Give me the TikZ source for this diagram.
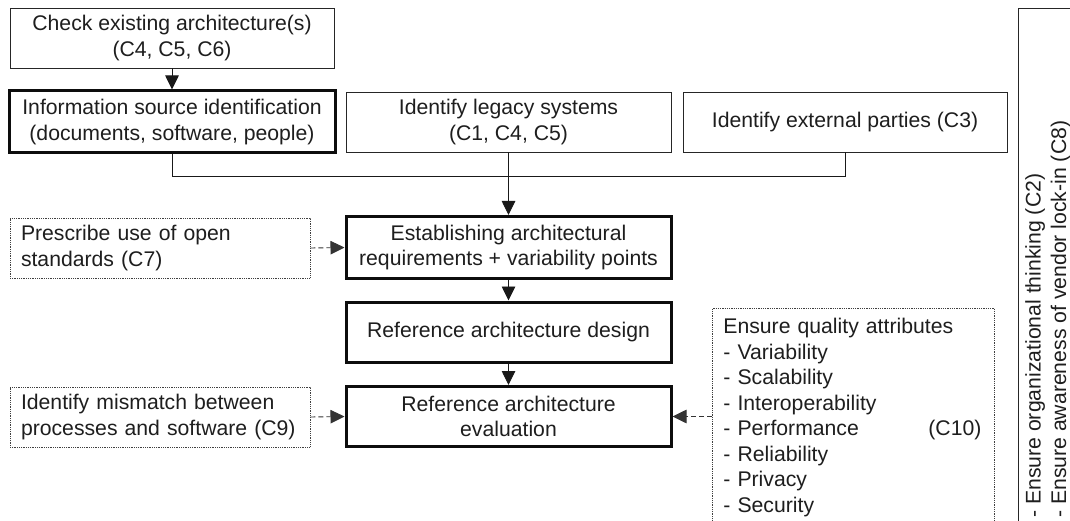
\documentclass[tikz,border=0pt]{standalone}
\usepackage{fontspec}
\setmainfont{Liberation Sans}
\usetikzlibrary{arrows.meta}
\definecolor{ink}{HTML}{1E1E1E}
\tikzset{
  base/.style={font=\fontsize{21.2}{25.5}\selectfont, text=ink, align=center, inner sep=0pt},
  thinbox/.style={base, draw=black!85, line width=0.9pt},
  thickbox/.style={base, draw=black!95, line width=3pt},
  dotbox/.style={base, draw=black!75, line width=0.8pt, dash pattern=on 0.9pt off 0.9pt, align=left},
  flow/.style={draw=black!90, line width=0.9pt},
  arr/.style={flow, -{Triangle[length=14pt,width=13.5pt]}},
  darr/.style={draw=black!80, line width=0.9pt, dash pattern=on 5pt off 3pt, -{Triangle[length=14pt,width=13.5pt]}},
}
\begin{document}
\begin{tikzpicture}[x=1pt,y=-1pt]
\useasboundingbox (0,0) rectangle (1070,521);
\clip (0,0) rectangle (1070,521);
\fill[white] (0,0) rectangle (1070,521);

\node[thinbox, minimum width=324pt, minimum height=60pt] (b1) at (172,38) {Check existing architecture(s)\\(C4, C5, C6)};
\node[thickbox, minimum width=326pt, minimum height=62pt] (b2) at (172,122) {Information source identification\\(documents, software, people)};
\node[thinbox, minimum width=325pt, minimum height=60pt] (b3) at (508.5,122) {Identify legacy systems\\(C1, C4, C5)};
\node[thinbox, minimum width=324pt, minimum height=60pt] (b4) at (845,122) {Identify external parties (C3)};

\node[thickbox, minimum width=325pt, minimum height=62pt] (b5) at (508.5,247.5) {Establishing architectural\\requirements + variability points};
\node[thickbox, minimum width=325pt, minimum height=60pt] (b6) at (508.5,332) {Reference architecture design};
\node[thickbox, minimum width=325pt, minimum height=60pt] (b7) at (508.5,416.5) {Reference architecture\\evaluation};

\node[dotbox, minimum width=300pt, minimum height=60pt, text width=278pt] (pres) at (160,248) {Prescribe use of open\\standards (C7)};
\node[dotbox, minimum width=300pt, minimum height=60pt, text width=278pt] (mis) at (160,417) {Identify mismatch between\\processes and software (C9)};

\node[dotbox, anchor=north west, text width=260pt, inner xsep=11pt, inner ysep=10pt] (qa) at (712,308)
  {Ensure quality attributes\\
   - Variability\\
   - Scalability\\
   - Interoperability\\
   \makebox[205pt][l]{- Performance}(C10)\\
   - Reliability\\
   - Privacy\\
   - Security\\[6pt]};

\draw[draw=black!85, line width=0.9pt] (1090,540) -- (1018,540) -- (1018,8) -- (1090,8);
\node[base, rotate=90, anchor=north west, align=left] (org) at (1025,518)
  {- Ensure organizational thinking (C2)\\- Ensure awareness of vendor lock-in (C8)};

\coordinate (jl) at (172,176);
\coordinate (jr) at (845,176);

\draw[arr] (b1.south) -- (b2.north);
\draw[flow] (b2.south) -- (jl) -- (jr) -- (b4.south);
\draw[arr] (b3.south) -- (b5.north);
\draw[arr] (b5.south) -- (b6.north);
\draw[arr] (b6.south) -- (b7.north);
\draw[darr] (pres.east) -- (b5.west);
\draw[darr] (mis.east) -- (b7.west);
\draw[darr] (qa.west |- b7.east) -- (b7.east);
\end{tikzpicture}
\end{document}
